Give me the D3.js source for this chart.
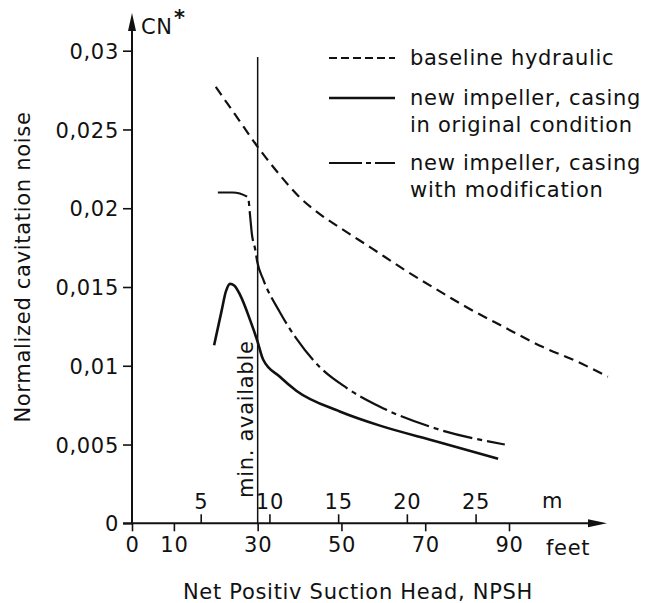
<!DOCTYPE html>
<html>
<head>
<meta charset="utf-8">
<script src="https://cdn.jsdelivr.net/npm/d3@7"></script>
<style>
    body { margin: 0; background: #fff; }
    svg text { font-family: "DejaVu Sans", sans-serif; font-size: 21px; letter-spacing: 0.7px; fill: #111; }
</style>
</head>
<body>
<svg class="chart" width="645" height="603"></svg>
<script>
// tick values / labels
var feetTicks = [0, 10, 30, 50, 70, 90];
var meterTicks = [5, 10, 15, 20, 25];
var cnTicks = [0, 0.005, 0.01, 0.015, 0.02, 0.025, 0.03];
var cnTickLabels = ["0", "0,005", "0,01", "0,015", "0,02", "0,025", "0,03"];
var minAvailable = 30;

// series (NPSH in feet, CN*)
var baselineNpsh = [20, 25, 30, 35, 40, 45, 50, 57, 65, 73, 80, 88.5, 98, 106, 113.6];
var baselineCn = [0.0277, 0.0258, 0.0239, 0.0222, 0.0207, 0.0196, 0.0187, 0.0175, 0.0161, 0.0148, 0.0137, 0.0125, 0.0112, 0.0103, 0.0093];

var originalNpsh = [19.6, 21.4, 22.4, 23.4, 24.4, 25.8, 28.2, 29.9, 31.3, 35.3, 39.3, 49.6, 59.2, 72.7, 87.4];
var originalCn = [0.0113, 0.0135, 0.0147, 0.0152, 0.0151, 0.0145, 0.0129, 0.0116, 0.0104, 0.0093, 0.0084, 0.0071, 0.0062, 0.0052, 0.0041];

var modifiedNpsh = [20.5, 24, 27.7, 28.2, 28.6, 29.4, 29.9, 31.3, 35.3, 39.3, 44.9, 51.2, 59.2, 72.7, 89];
var modifiedCn = [0.0210, 0.0210, 0.0207, 0.0195, 0.0184, 0.0174, 0.0166, 0.0155, 0.0134, 0.0117, 0.0099, 0.0086, 0.0074, 0.0060, 0.0050];

var legendLabels = [
    ["baseline hydraulic"],
    ["new impeller, casing", "in original condition"],
    ["new impeller, casing", "with modification"]
];

var FT_PER_M = 3.2808;

var svg = d3.select("svg.chart");

var x = d3.scaleLinear().domain([0, 90]).range([132, 509]);
var xm = d3.scaleLinear().domain([0, 90 / FT_PER_M]).range([132, 509]);
var y = d3.scaleLinear().domain([0, 0.03]).range([523.3, 50.7]);

var x0 = x(0), y0 = y(0);

// axis lines with arrows
svg.append("line")
    .attr("x1", 123).attr("y1", y0).attr("x2", 592).attr("y2", y0)
    .attr("stroke", "#111").attr("stroke-width", 2);
svg.append("path")
    .attr("d", "M607," + y0 + " L588," + (y0 - 4) + " L588," + (y0 + 4) + "Z")
    .attr("fill", "#111");

svg.append("line")
    .attr("x1", x0).attr("y1", y0).attr("x2", x0).attr("y2", 28)
    .attr("stroke", "#111").attr("stroke-width", 2);
svg.append("path")
    .attr("d", "M" + x0 + ",13 L" + (x0 - 4) + ",31 L" + (x0 + 4) + ",31Z")
    .attr("fill", "#111");

// y ticks
var yAxis = d3.axisLeft(y)
    .tickValues(cnTicks)
    .tickFormat(function(d, i) { return cnTickLabels[i]; })
    .tickSize(9)
    .tickPadding(4);

var gy = svg.append("g")
    .attr("transform", "translate(" + x0 + ",0)")
    .call(yAxis);
gy.select(".domain").remove();
gy.selectAll(".tick line").attr("stroke", "#111").attr("stroke-width", 1.6);
gy.selectAll(".tick text").attr("font-size", null).attr("font-family", null).attr("dy", "0.36em");

// feet ticks (below)
var gf = svg.append("g")
    .attr("transform", "translate(0," + y0 + ")")
    .call(d3.axisBottom(x).tickValues(feetTicks).tickSize(8).tickPadding(6));
gf.select(".domain").remove();
gf.selectAll(".tick line").attr("stroke", "#111").attr("stroke-width", 1.6);
gf.selectAll(".tick text").attr("font-size", null).attr("font-family", null);

// meter ticks (above)
var gm = svg.append("g")
    .attr("transform", "translate(0," + y0 + ")")
    .call(d3.axisTop(xm).tickValues(meterTicks).tickSize(9).tickPadding(5));
gm.select(".domain").remove();
gm.selectAll(".tick line").attr("stroke", "#111").attr("stroke-width", 1.6);
gm.selectAll(".tick text").attr("font-size", null).attr("font-family", null);

svg.append("text").attr("x", 542).attr("y", 508).text("m");
svg.append("text").attr("x", 546).attr("y", 555).text("feet");

// axis titles
svg.append("text")
    .attr("x", 358).attr("y", 599)
    .attr("text-anchor", "middle")
    .text("Net Positiv Suction Head, NPSH");

svg.append("text")
    .attr("transform", "translate(30,267) rotate(-90)")
    .attr("text-anchor", "middle")
    .text("Normalized cavitation noise");

svg.append("text").attr("x", 141).attr("y", 34).attr("letter-spacing", "0px").text("CN");
svg.append("text").attr("x", 174).attr("y", 25).attr("font-size", "17px").attr("font-weight", "bold").text("*");

// min. available marker
svg.append("line")
    .attr("x1", x(minAvailable)).attr("x2", x(minAvailable))
    .attr("y1", 57).attr("y2", y0)
    .attr("stroke", "#111").attr("stroke-width", 1.5);
svg.append("text")
    .attr("transform", "translate(" + (x(minAvailable) - 5) + ",498) rotate(-90)")
    .text("min. available");

// curves
function series(xs, ys) {
    return xs.map(function(d, i) { return [d, ys[i]]; });
}

var line = d3.line()
    .x(function(d) { return x(d[0]); })
    .y(function(d) { return y(d[1]); })
    .curve(d3.curveMonotoneX);

var styles = [
    { dash: "10,6", width: 2.2 },
    { dash: null, width: 2.6 },
    { dash: "30,5,5,5", width: 2.2 }
];

var curves = [
    series(baselineNpsh, baselineCn),
    series(originalNpsh, originalCn),
    series(modifiedNpsh, modifiedCn)
];

svg.selectAll(".curve")
    .data(curves)
    .enter()
        .append("path")
        .attr("class", "curve")
        .attr("d", line)
        .attr("fill", "none")
        .attr("stroke", "#111")
        .attr("stroke-width", function(d, i) { return styles[i].width; })
        .attr("stroke-dasharray", function(d, i) { return styles[i].dash; });

// legend
var legendY = [58, 98, 163];

var legend = svg.selectAll(".legend")
    .data(legendLabels)
    .enter()
        .append("g")
        .attr("class", "legend")
        .attr("transform", function(d, i) { return "translate(329," + legendY[i] + ")"; });

legend.append("line")
    .attr("x1", 0).attr("x2", 66).attr("y1", 0).attr("y2", 0)
    .attr("stroke", "#111")
    .attr("stroke-width", function(d, i) { return styles[i].width; })
    .attr("stroke-dasharray", function(d, i) { return i === 0 ? "8,4" : (i === 2 ? "33,4,5,4" : null); });

legend.each(function(d) {
    var g = d3.select(this);
    d.forEach(function(t, j) {
        g.append("text").attr("x", 81).attr("y", 7 + j * 27).text(t);
    });
});
</script>
</body>
</html>
